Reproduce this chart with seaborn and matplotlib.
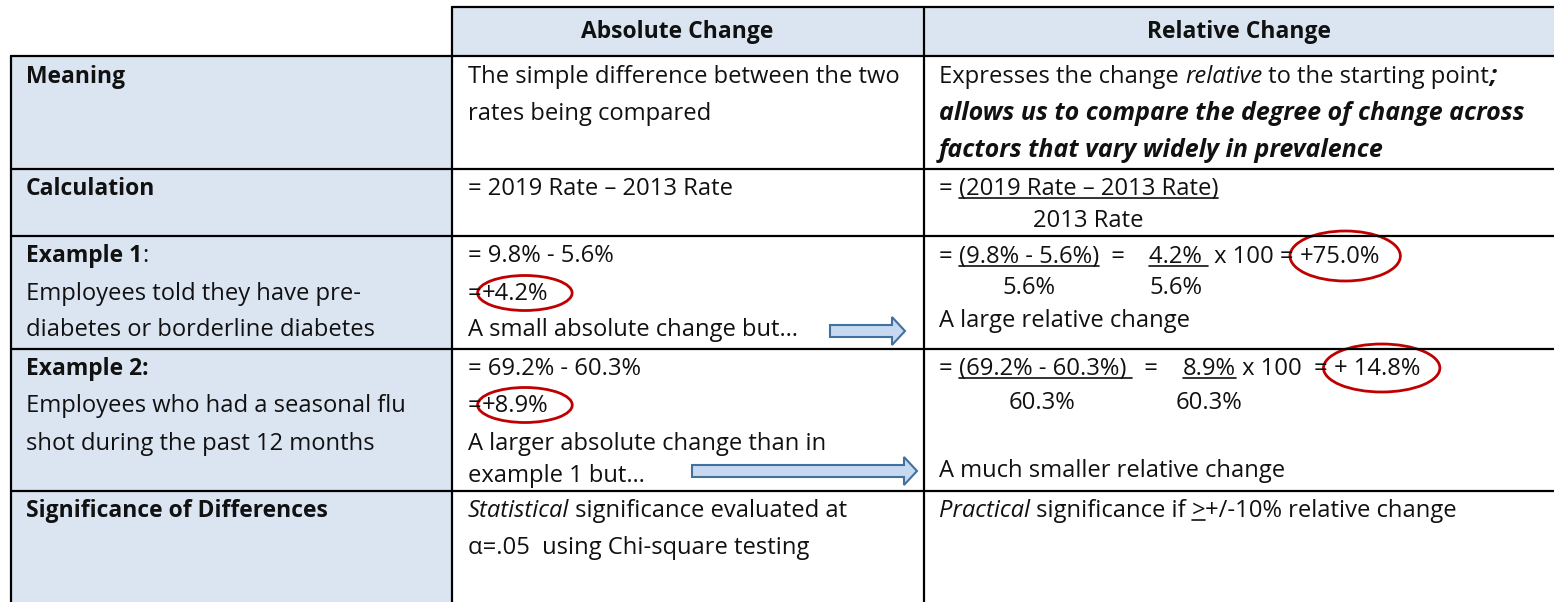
import matplotlib
matplotlib.use("Agg")
import matplotlib.pyplot as plt
from matplotlib.patches import Rectangle, Ellipse, FancyArrow
import seaborn as sns

sns.set_theme(style="white")
plt.rcParams["font.family"] = ["Open Sans", "DejaVu Sans"]

# table content
header_labels = ["Absolute Change", "Relative Change"]
row_labels = ["Meaning", "Calculation", "Example 1", "Example 2", "Significance of Differences"]
example_notes = [
    ["Employees told they have pre-", "diabetes or borderline diabetes"],
    ["Employees who had a seasonal flu", "shot during the past 12 months"],
]
rate_2019 = ["9.8%", "69.2%"]
rate_2013 = ["5.6%", "60.3%"]
abs_change = ["+4.2%", "+8.9%"]
rel_change = ["+75.0%", "+ 14.8%"]

# layout (pixels)
W, H = 1554, 602
col_x = [11, 452, 924]
row_y = [7, 56, 169, 236, 349, 491, 602]
fill = "#DBE5F1"
SIZES = {"": 17.1, "i": 17.1, "u": 17.1, "b": 16.5, "bi": 18.0}

fig = plt.figure(figsize=(W / 100, H / 100), dpi=100)
ax = fig.add_axes([0, 0, 1, 1])
ax.set_xlim(0, W)
ax.set_ylim(H, 0)
ax.set_axis_off()
renderer = fig.canvas.get_renderer()


def style_kw(st):
    key = "".join(c for c in st if c in "bi")
    return dict(fontweight="bold" if "b" in st else "normal",
                fontstyle="italic" if "i" in st else "normal",
                fontsize=SIZES[key])


def width_of(s, st=""):
    t = ax.text(0, 0, "|" + s + "|", **style_kw(st))
    b = ax.text(0, 0, "||", **style_kw(st))
    w = t.get_window_extent(renderer).width - b.get_window_extent(renderer).width
    t.remove()
    b.remove()
    return w


def runs(x, yc, parts):
    # draws text runs one after another, returns their x spans
    y = yc + 7
    spans = []
    for s, st in parts:
        ax.text(x, y, s, va="baseline", ha="left", color="#111111", **style_kw(st))
        w = width_of(s, st)
        if "u" in st:
            ax.plot([x, x + w], [y + 3, y + 3], color="#111111", lw=1.2)
        spans.append((x, x + w))
        x += w
    return spans


def centered(xc, yc, s, st=""):
    w = width_of(s, st)
    runs(xc - w / 2, yc, [(s, st)])


def ring(span, yc, h, pad, dx):
    w = span[1] - span[0] + pad
    ax.add_patch(Ellipse(((span[0] + span[1]) / 2 + dx, yc), w, h,
                         fill=False, edgecolor="#C00000", lw=2))


def arrow(x0, x1, yc):
    ax.add_patch(FancyArrow(x0, yc, x1 - x0, 0, width=12, head_width=28, head_length=13,
                            length_includes_head=True, facecolor="#C6D9F1",
                            edgecolor="#41719C", lw=1.5))


# fills
ax.add_patch(Rectangle((col_x[1], row_y[0]), W - col_x[1], row_y[1] - row_y[0], color=fill, lw=0))
ax.add_patch(Rectangle((col_x[0], row_y[1]), col_x[1] - col_x[0], H - row_y[1], color=fill, lw=0))

# grid lines
ax.plot([col_x[1], W], [row_y[0]] * 2, color="black", lw=1.6)
for y in row_y[1:-1]:
    ax.plot([col_x[0], W], [y, y], color="black", lw=1.6)
ax.plot([col_x[0]] * 2, [row_y[1], H], color="black", lw=1.6)
for x in col_x[1:]:
    ax.plot([x, x], [row_y[0], H], color="black", lw=1.6)

# header
centered(677, 31, header_labels[0], "b")
centered(1239, 31, header_labels[1], "b")

LX, AX, RX = 26, 468, 939

# left column
runs(LX, 76, [(row_labels[0], "b")])
runs(LX, 188, [(row_labels[1], "b")])
runs(LX, 255, [(row_labels[2], "b"), (":", "")])
runs(LX, 293, [(example_notes[0][0], "")])
runs(LX, 329, [(example_notes[0][1], "")])
runs(LX, 368, [(row_labels[3] + ":", "b")])
runs(LX, 405, [(example_notes[1][0], "")])
runs(LX, 443, [(example_notes[1][1], "")])
runs(LX, 510, [(row_labels[4], "b")])

# meaning
runs(AX, 76, [("The simple difference between the two", "")])
runs(AX, 113, [("rates being compared", "")])
runs(RX, 76, [("Expresses the change ", ""), ("relative", "i"), (" to the starting point", ""), (";", "bi")])
runs(RX, 113, [("allows us to compare the degree of change across", "bi")])
runs(RX, 150, [("factors that vary widely in prevalence", "bi")])

# calculation
runs(AX, 188, [("= 2019 Rate \u2013 2013 Rate", "")])
sp = runs(RX, 188, [("= ", ""), ("(2019 Rate \u2013 2013 Rate)", "u")])
centered((sp[1][0] + sp[1][1]) / 2, 220, "2013 Rate")

# examples, absolute column
abs_y = [(255, 293, 329), (368, 405, 443)]
abs_tail = [["A small absolute change but\u2026"], ["A larger absolute change than in", "example 1 but\u2026"]]
for i in range(2):
    y0, y1, y2 = abs_y[i]
    runs(AX, y0, [("= " + rate_2019[i] + " - " + rate_2013[i], "")])
    sp = runs(AX, y1, [("=", ""), (abs_change[i], "")])
    ring(sp[1], y1, 35, 28, 10)
    for k, s in enumerate(abs_tail[i]):
        runs(AX, y2 + 32 * k, [(s, "")])

# examples, relative column
rel_y = [(256, 287, 320), (368, 402, 470)]
rel_tail = ["A large relative change", "A much smaller relative change"]
num_pad = ["", " "]
mid_eq = ["  =    ", "  =    "]
div_pad = [" ", ""]
times = [" x 100 = ", " x 100  = "]
ring_h = [50, 48]
for i in range(2):
    y0, y1, y2 = rel_y[i]
    num = "(" + rate_2019[i] + " - " + rate_2013[i] + ")"
    diff = abs_change[i].lstrip("+")
    sp = runs(RX, y0, [("= ", ""), (num + num_pad[i], "u"), (mid_eq[i], ""),
                       (diff + div_pad[i], "u"), (times[i], ""), (rel_change[i], "")])
    centered(sp[1][0] + width_of(num) / 2, y1, rate_2013[i])
    centered(sp[3][0] + width_of(diff) / 2, y1, rate_2013[i])
    ring(sp[5], y0, ring_h[i], 30, 5)
    runs(RX, y2, [(rel_tail[i], "")])

arrow(830, 905, 331)
arrow(692, 917, 471)

# significance
runs(AX, 510, [("Statistical", "i"), (" significance evaluated at", "")])
runs(AX, 547, [("\u03b1=.05  using Chi-square testing", "")])
runs(RX, 510, [("Practical", "i"), (" significance if ", ""), (">", "u"), ("+/-10% relative change", "")])

fig.savefig("out.png", dpi=100)
